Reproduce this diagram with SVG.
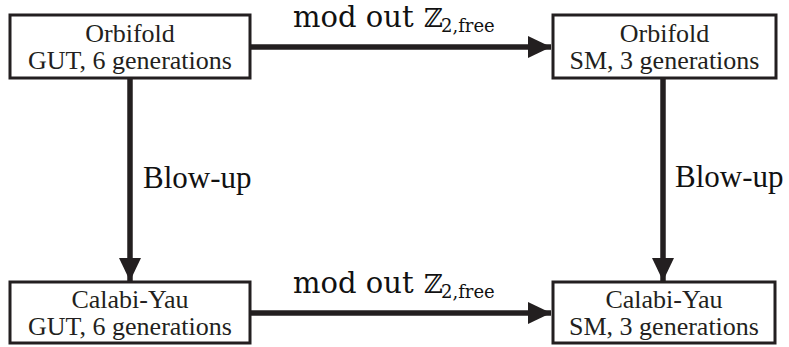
<svg xmlns="http://www.w3.org/2000/svg" width="789" height="347" viewBox="0 0 789 347">
<defs>
<style>
.box{fill:#fff;stroke:#231f20;stroke-width:3}
.nt{font-family:"Liberation Serif","Times New Roman",serif;font-size:26px;fill:#231f20;text-anchor:middle}
.lbl{font-family:"Liberation Serif","Times New Roman",serif;font-size:31px;fill:#111}
.mo{font-family:"DejaVu Serif",serif;font-size:29px;fill:#111}
.bb{font-family:"DejaVu Serif","DejaVu Sans",serif;font-size:26px;fill:#111}
.sub{font-family:"DejaVu Serif",serif;font-size:18px;fill:#111}
.ln{stroke:#231f20;stroke-width:5.5;fill:none}
</style>
<marker id="ah" markerUnits="userSpaceOnUse" markerWidth="24" markerHeight="24" viewBox="0 0 24 24" refX="23" refY="12" orient="auto">
<path d="M0,1 L23,12 L0,23 Z" fill="#231f20"/>
</marker>
</defs>
<g id="connectors">
<line class="ln" x1="250" y1="47" x2="551" y2="47" marker-end="url(#ah)"/>
<line class="ln" x1="250" y1="313" x2="551" y2="313" marker-end="url(#ah)"/>
<line class="ln" x1="130" y1="78" x2="130" y2="281" marker-end="url(#ah)"/>
<line class="ln" x1="663" y1="78" x2="663" y2="281" marker-end="url(#ah)"/>
<text class="mo" x="293" y="27">mod out</text>
<text class="bb" x="424" y="27">ℤ</text>
<text class="sub" x="441" y="32">2,free</text>
<text class="mo" x="293" y="293">mod out</text>
<text class="bb" x="424" y="293">ℤ</text>
<text class="sub" x="441" y="298">2,free</text>
<text class="lbl" x="143" y="188">Blow-up</text>
<text class="lbl" x="675" y="187">Blow-up</text>
</g>
<g id="node-orbifold-gut">
<rect class="box" x="10" y="15" width="240" height="63"/>
<text class="nt" x="130" y="42">Orbifold</text>
<text class="nt" x="130" y="69">GUT, 6 generations</text>
</g>
<g id="node-orbifold-sm">
<rect class="box" x="553" y="15" width="223" height="63"/>
<text class="nt" x="664.5" y="42">Orbifold</text>
<text class="nt" x="664.5" y="69">SM, 3 generations</text>
</g>
<g id="node-cy-gut">
<rect class="box" x="10" y="282" width="240" height="61"/>
<text class="nt" x="130" y="308">Calabi-Yau</text>
<text class="nt" x="130" y="335">GUT, 6 generations</text>
</g>
<g id="node-cy-sm">
<rect class="box" x="553" y="282" width="222" height="61"/>
<text class="nt" x="664" y="308">Calabi-Yau</text>
<text class="nt" x="664" y="335">SM, 3 generations</text>
</g>
</svg>
